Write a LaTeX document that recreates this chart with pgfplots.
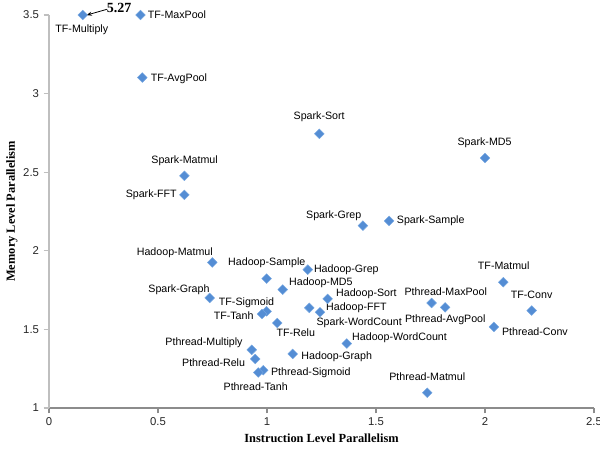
\documentclass[border=0pt]{standalone}
\usepackage{pgfplots}
\pgfplotsset{compat=1.18}
\usepackage{pgfplotstable}
\usetikzlibrary{arrows.meta}
\usepackage{fontspec}
\setmainfont{Liberation Sans}
\newfontfamily\serifb{Liberation Serif}
\definecolor{mk}{RGB}{84,141,212}
\definecolor{mkedge}{RGB}{120,168,225}

% x = ILP, y = MLP
\pgfplotstableread{
x y
0.155 3.500
0.420 3.500
0.428 3.102
0.621 2.477
0.621 2.356
1.240 2.744
2.000 2.590
1.440 2.160
1.560 2.190
1.187 1.880
2.084 1.800
2.214 1.620
1.755 1.668
1.817 1.640
2.041 1.516
1.278 1.694
1.194 1.637
1.243 1.609
1.072 1.753
1.047 1.541
1.366 1.410
1.118 1.344
1.735 1.097
0.749 1.926
0.998 1.823
0.737 1.700
0.998 1.615
0.977 1.598
0.930 1.370
0.946 1.312
0.983 1.240
0.960 1.226
}\pts

\begin{document}
\begin{tikzpicture}
\path[use as bounding box] (0,0) rectangle (450pt,336.75pt);
\begin{axis}[
  at={(36.75pt,30.75pt)}, anchor=south west,
  scale only axis, width=408.75pt, height=294.75pt,
  xmin=0, xmax=2.5, ymin=1, ymax=3.5,
  axis x line*=bottom, axis y line*=left,
  x axis line style={-, draw=black!45, line width=0.8pt},
  y axis line style={-, draw=black!25, line width=0.8pt},
  x tick style={draw=black!45, line width=0.8pt},
  y tick style={draw=black!25, line width=0.8pt},
  xtick={0,0.5,1,1.5,2,2.5}, xticklabels={0,0.5,1,1.5,2,2.5},
  ytick={1,1.5,2,2.5,3,3.5}, yticklabels={1,1.5,2,2.5,3,3.5},
  tick align=outside, major tick length=4pt,
  tick label style={font=\fontsize{8.5}{10}\selectfont, text=black!85},
  clip=false,
  xlabel={\serifb\bfseries\fontsize{9.3}{11}\selectfont Instruction Level Parallelism},
  ylabel={\serifb\bfseries\fontsize{9.3}{11}\selectfont Memory Level Parallelism},
  xlabel style={at={(axis description cs:0.5,-0.0763)}, anchor=center},
  ylabel style={at={(axis description cs:-0.068,0.5)}, anchor=center},
]
\addplot[only marks, mark=square*, mark size=2.6pt,
  mark options={rotate=45, fill=mk, draw=mkedge, line width=0.3pt}] table {\pts};

\begin{scope}[every node/.style={font=\fontsize{8}{10}\selectfont, inner sep=0pt, anchor=center}]
\node at (axis cs:0.1505,3.405) {TF-Multiply};
\node at (axis cs:0.587,3.500) {TF-MaxPool};
\node at (axis cs:0.596,3.093) {TF-AvgPool};
\node at (axis cs:0.622,2.574) {Spark-Matmul};
\node at (axis cs:0.469,2.356) {Spark-FFT};
\node at (axis cs:1.2394,2.850) {Spark-Sort};
\node at (axis cs:1.998,2.689) {Spark-MD5};
\node at (axis cs:1.306,2.223) {Spark-Grep};
\node at (axis cs:1.751,2.193) {Spark-Sample};
\node at (axis cs:2.086,1.905) {TF-Matmul};
\node at (axis cs:2.214,1.717) {TF-Conv};
\node at (axis cs:1.820,1.742) {Pthread-MaxPool};
\node at (axis cs:1.818,1.562) {Pthread-AvgPool};
\node at (axis cs:2.229,1.484) {Pthread-Conv};
\node at (axis cs:1.364,1.880) {Hadoop-Grep};
\node at (axis cs:1.247,1.799) {Hadoop-MD5};
\node at (axis cs:1.456,1.727) {Hadoop-Sort};
\node at (axis cs:1.410,1.637) {Hadoop-FFT};
\node at (axis cs:1.423,1.545) {Spark-WordCount};
\node at (axis cs:1.608,1.446) {Hadoop-WordCount};
\node at (axis cs:1.320,1.325) {Hadoop-Graph};
\node at (axis cs:1.735,1.202) {Pthread-Matmul};
\node at (axis cs:1.132,1.482) {TF-Relu};
\node at (axis cs:1.201,1.224) {Pthread-Sigmoid};
\node at (axis cs:0.948,1.135) {Pthread-Tanh};
\node at (axis cs:0.577,1.986) {Hadoop-Matmul};
\node at (axis cs:0.999,1.922) {Hadoop-Sample};
\node at (axis cs:0.596,1.753) {Spark-Graph};
\node at (axis cs:0.906,1.672) {TF-Sigmoid};
\node at (axis cs:0.847,1.590) {TF-Tanh};
\node at (axis cs:0.711,1.414) {Pthread-Multiply};
\node at (axis cs:0.755,1.287) {Pthread-Relu};
\end{scope}

\node[font=\serifb\bfseries\fontsize{10.5}{12}\selectfont, inner sep=0pt] at (axis cs:0.322,3.543) {5.27};
\draw[-{Stealth[length=4pt,width=3pt]}, line width=0.6pt] (axis cs:0.265,3.536) -- (axis cs:0.172,3.499);
\end{axis}
\end{tikzpicture}
\end{document}
